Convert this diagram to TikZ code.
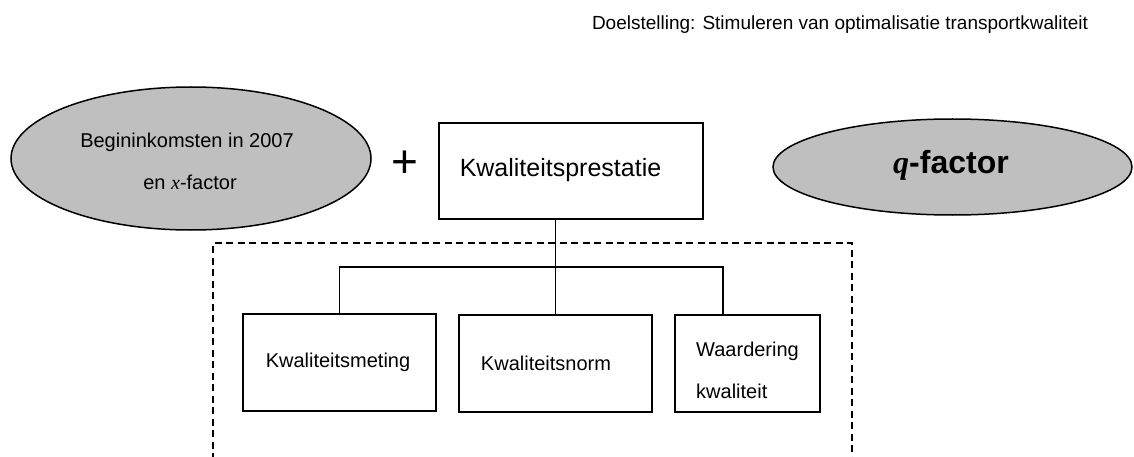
\documentclass[tikz,border=0pt]{standalone}
\usepackage{fontspec}
\setmainfont{Liberation Sans}
\newfontfamily\timesf{Liberation Serif}
\usetikzlibrary{shapes.geometric}
\tikzset{
  gray ellipse/.style={ellipse, draw, line width=1.5pt, fill=black!25, inner sep=0pt},
  boxed/.style={draw, line width=1.5pt, inner sep=0pt},
  txt/.style={inner sep=0pt, font=\fontsize{20}{24}\selectfont},
  wire/.style={line width=1.5pt},
  dashbox/.style={line width=1.5pt, dash pattern=on 7pt off 4.5pt}
}
\begin{document}
\begin{tikzpicture}[x=1pt, y=-1pt]
\useasboundingbox (0,0) rectangle (1134,457);
% header
\node[txt, font=\fontsize{19}{23}\selectfont] (head) at (840,25) {Doelstelling: Stimuleren van optimalisatie transportkwaliteit};
% left ellipse
\node[gray ellipse, minimum width=360pt, minimum height=143pt] (beg) at (191,158.5) {};
\node[txt] (begA) at (187,142) {Begininkomsten in 2007};
\node[txt] (begB) at (190,182) {en {\timesf\itshape x}-factor};
% plus
\node[inner sep=0pt, font=\fontsize{46}{50}\selectfont] (plus) at (404.5,164) {+};
% main box
\node[boxed, minimum width=264pt, minimum height=96pt] (kp) at (571,171) {};
\node[txt, font=\fontsize{25}{30}\selectfont] (kpt) at (560.5,170) {Kwaliteitsprestatie};
% q-factor
\node[gray ellipse, minimum width=359pt, minimum height=96pt] (q) at (952.5,167) {};
\node[inner sep=0pt, font=\fontsize{32}{36}\selectfont] (qt) at (951,165) {{\timesf\bfseries\itshape q}\textbf{-factor}};
% dashed region
\draw[dashbox] (213,460) -- (213,243) -- (852,243) -- (852,460);
% sub boxes
\node[boxed, minimum width=193pt, minimum height=97pt] (km) at (339.5,362.5) {};
\node[txt] (kmt) at (338,362) {Kwaliteitsmeting};
\node[boxed, minimum width=193pt, minimum height=97pt] (kn) at (555.5,363.5) {};
\node[txt] (knt) at (546,363) {Kwaliteitsnorm};
\node[boxed, minimum width=145pt, minimum height=97pt] (wk) at (747.5,363.5) {};
\node[txt, anchor=west] (wkA) at (696,351) {Waardering};
\node[txt, anchor=west] (wkB) at (696,391) {kwaliteit};
% connectors
\coordinate (bus) at (555.5,267);
\coordinate (wtop) at (723,315);
\draw[wire] (kp.south -| kn.north) -- (kn.north);
\draw[wire] (km.north) |- (bus) -| (wtop);
\end{tikzpicture}
\end{document}
